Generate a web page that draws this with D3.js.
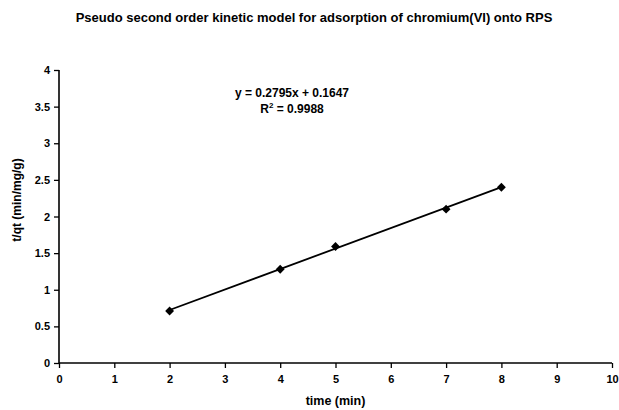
<!DOCTYPE html>
<html>
<head>
<meta charset="utf-8">
<script src="https://cdn.jsdelivr.net/npm/d3@7"></script>
<style>
  body { margin: 0; background: #fff; }
  text { font-family: "Liberation Sans", Arial, sans-serif; font-weight: bold; fill: #000; }
</style>
</head>
<body>
<div class="chart"></div>
<script>
// data
var timeMin = [2, 4, 5, 7, 8]
var tqValues = [0.71, 1.28, 1.59, 2.10, 2.40]
var xTicks = [0, 1, 2, 3, 4, 5, 6, 7, 8, 9, 10]
var yTicks = [0, 0.5, 1, 1.5, 2, 2.5, 3, 3.5, 4]
var fitSlope = 0.2795
var fitIntercept = 0.1647
var fitR2 = 0.9988

var width = 619,
    height = 410
var margin = {top: 70, right: 7, bottom: 47, left: 59}

var svg = d3.select(".chart")
  .append("svg")
    .attr("width", width)
    .attr("height", height)

var x = d3.scaleLinear().domain([0, 10]).range([margin.left, width - margin.right])
var y = d3.scaleLinear().domain([0, 4]).range([height - margin.bottom, margin.top])

// title
svg.append("text")
  .attr("x", 314)
  .attr("y", 22)
  .attr("text-anchor", "middle")
  .style("font-size", "13px")
  .text("Pseudo second order kinetic model for adsorption of chromium(VI) onto RPS")

// axes
var xAxis = svg.append("g")
  .attr("transform", "translate(0," + y(0) + ")")
  .call(d3.axisBottom(x).tickValues(xTicks).tickSize(5).tickPadding(7).tickFormat(d3.format("d")))
var yAxis = svg.append("g")
  .attr("transform", "translate(" + x(0) + ",0)")
  .call(d3.axisLeft(y).tickValues(yTicks).tickSize(5).tickPadding(4).tickFormat(function(d) { return d }))

svg.selectAll(".domain").attr("stroke", "#000").attr("stroke-width", 1.6)
xAxis.select(".domain").attr("d", "M" + x(0) + ",0H" + x(10))
yAxis.select(".domain").attr("d", "M0," + y(4) + "V" + y(0))
svg.selectAll(".tick line").attr("stroke", "#000").attr("stroke-width", 1.3)
svg.selectAll(".tick text").style("font-size", "11px").style("font-family", "Liberation Sans, Arial, sans-serif")

// axis titles
svg.append("text")
  .attr("x", x(5))
  .attr("y", 405)
  .attr("text-anchor", "middle")
  .style("font-size", "12.5px")
  .text("time (min)")

svg.append("text")
  .attr("transform", "translate(21,200) rotate(-90)")
  .attr("text-anchor", "middle")
  .style("font-size", "12px")
  .text("t/qt (min/mg/g)")

// trendline
var x0 = d3.min(timeMin), x1 = d3.max(timeMin)
svg.append("line")
  .attr("x1", x(x0))
  .attr("y1", y(fitSlope * x0 + fitIntercept))
  .attr("x2", x(x1))
  .attr("y2", y(fitSlope * x1 + fitIntercept))
  .attr("stroke", "#000")
  .attr("stroke-width", 1.8)

// diamond markers
var points = timeMin.map(function(t, i) { return {t: t, v: tqValues[i]} })
svg.selectAll("path.pt")
  .data(points)
  .enter()
  .append("path")
    .attr("class", "pt")
    .attr("d", d3.symbol().type(d3.symbolDiamond2).size(50))
    .attr("transform", function(d) { return "translate(" + x(d.t) + "," + y(d.v) + ")" })
    .attr("fill", "#000")

// equation label
svg.append("text")
  .attr("x", 292)
  .attr("y", 97)
  .attr("text-anchor", "middle")
  .style("font-size", "12px")
  .text("y = " + fitSlope + "x + " + fitIntercept)

var r2 = svg.append("text")
  .attr("x", 292)
  .attr("y", 113)
  .attr("text-anchor", "middle")
  .style("font-size", "12px")
r2.append("tspan").text("R")
r2.append("tspan").attr("dy", -5).style("font-size", "8px").text("2")
r2.append("tspan").attr("dy", 5).text(" = " + fitR2)
</script>
</body>
</html>
